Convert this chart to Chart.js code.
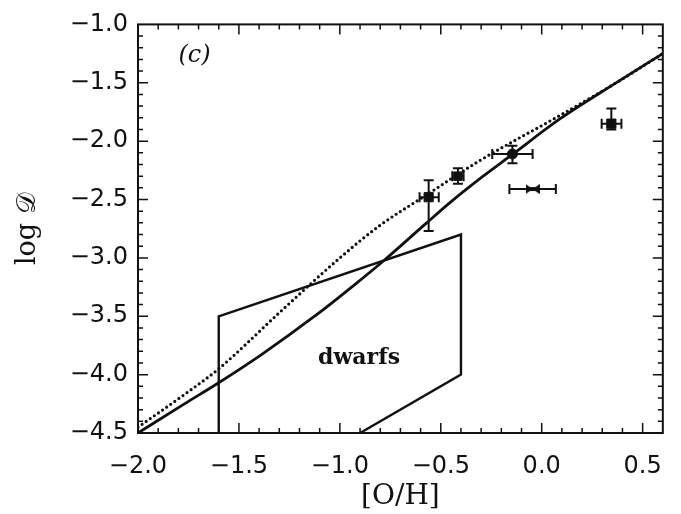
<!DOCTYPE html>
<html>
<head>
<meta charset="utf-8">
<script src="https://cdn.jsdelivr.net/npm/chart.js@4.4.1/dist/chart.umd.min.js"></script>
<style>
  html, body { margin: 0; padding: 0; background: #fff; }
  #chart { display: block; }
</style>
</head>
<body>
<canvas id="chart" width="681" height="514"></canvas>
<script>
// Model curves: log D against [O/H]
const solidX = [-2.0, -1.77, -1.61, -1.39, -1.11, -0.92, -0.78, -0.57, -0.45, -0.29, -0.15, 0.09, 0.36, 0.6];
const solidY = [-4.5, -4.25, -4.08, -3.83, -3.48, -3.22, -3.02, -2.70, -2.52, -2.30, -2.12, -1.81, -1.51, -1.25];

const dottedX = [-2.0, -1.77, -1.60, -1.30, -1.00, -0.80, -0.57, -0.31, 0.09, 0.35, 0.6];
const dottedY = [-4.45, -4.17, -3.95, -3.47, -3.00, -2.72, -2.46, -2.17, -1.78, -1.52, -1.25];

// Outline of the dwarf-star region
const dwarfX = [-1.6, -1.6, -0.4, -0.4, -0.9];
const dwarfY = [-4.5, -3.5, -2.8, -4.0, -4.5];

// Measured points with asymmetric errors
const pointX = [-0.56, -0.415, -0.145, -0.045, 0.345];
const pointY = [-2.48, -2.30, -2.11, -2.41, -1.85];
const xErrMinus = [0.045, 0.028, 0.10, 0.115, 0.048];
const xErrPlus = [0.05, 0.028, 0.10, 0.115, 0.05];
const yErrMinus = [0.29, 0.064, 0.08, 0, 0.05];
const yErrPlus = [0.145, 0.068, 0.07, 0, 0.13];

// Axis ticks
const xTicks = [-2.0, -1.5, -1.0, -0.5, 0.0, 0.5];
const yTicks = [-4.5, -4.0, -3.5, -3.0, -2.5, -2.0, -1.5, -1.0];

// Annotations
const panelLabel = { text: "(c)", x: -1.72, y: -1.27 };
const regionLabel = { text: "dwarfs", x: -0.905, y: -3.86 };

const INK = "#111";

// Sideways hourglass marker
function makeBowtie() {
	const c = document.createElement("canvas");
	c.width = 14;
	c.height = 10;
	const g = c.getContext("2d");
	g.fillStyle = INK;
	g.beginPath();
	g.moveTo(0, 0);
	g.lineTo(14, 10);
	g.lineTo(14, 0);
	g.lineTo(0, 10);
	g.closePath();
	g.fill();
	g.fillRect(3, 3, 8, 4);
	return c;
}

const pointStyles = ["rect", "rect", "circle", makeBowtie(), "rect"];
const pointSizes = [6.5, 6, 5, 6, 6.5];

function fmt(v) {
	if (Math.abs(v) < 1e-9) return "0.0";
	return v.toFixed(1).replace("-", "\u2212");
}

const toXY = (xs, ys) => xs.map((x, i) => ({ x, y: ys[i] }));

// Box frame with inward major/minor ticks on all four sides
const frameTicks = {
	id: "frameTicks",
	afterDraw(chart) {
		const { ctx, chartArea: a, scales } = chart;
		const sx = scales.x;
		const sy = scales.y;
		ctx.save();
		ctx.strokeStyle = INK;
		ctx.lineWidth = 2;
		ctx.strokeRect(a.left, a.top, a.right - a.left, a.bottom - a.top);

		ctx.lineWidth = 1.5;
		ctx.beginPath();
		for (let i = 1; i < 26; i++) {
			const px = sx.getPixelForValue(-2.0 + i * 0.1);
			const len = i % 5 === 0 ? 10 : 5;
			ctx.moveTo(px, a.bottom);
			ctx.lineTo(px, a.bottom - len);
			ctx.moveTo(px, a.top);
			ctx.lineTo(px, a.top + len);
		}
		for (let i = 1; i < 35; i++) {
			const py = sy.getPixelForValue(-4.5 + i * 0.1);
			const len = i % 5 === 0 ? 10 : 5;
			ctx.moveTo(a.left, py);
			ctx.lineTo(a.left + len, py);
			ctx.moveTo(a.right, py);
			ctx.lineTo(a.right - len, py);
		}
		ctx.stroke();
		ctx.restore();
	},
};

// Error bars with end caps for the measured points
const errorBars = {
	id: "errorBars",
	afterDatasetsDraw(chart) {
		const { ctx, scales } = chart;
		const sx = scales.x;
		const sy = scales.y;
		const cap = 5;
		ctx.save();
		ctx.strokeStyle = INK;
		ctx.lineWidth = 2;
		ctx.beginPath();
		pointX.forEach((xv, i) => {
			const px = sx.getPixelForValue(xv);
			const py = sy.getPixelForValue(pointY[i]);
			const x0 = sx.getPixelForValue(xv - xErrMinus[i]);
			const x1 = sx.getPixelForValue(xv + xErrPlus[i]);
			ctx.moveTo(x0, py);
			ctx.lineTo(x1, py);
			ctx.moveTo(x0, py - cap);
			ctx.lineTo(x0, py + cap);
			ctx.moveTo(x1, py - cap);
			ctx.lineTo(x1, py + cap);
			if (yErrMinus[i] > 0 || yErrPlus[i] > 0) {
				const y0 = sy.getPixelForValue(pointY[i] - yErrMinus[i]);
				const y1 = sy.getPixelForValue(pointY[i] + yErrPlus[i]);
				ctx.moveTo(px, y0);
				ctx.lineTo(px, y1);
				ctx.moveTo(px - cap, y0);
				ctx.lineTo(px + cap, y0);
				ctx.moveTo(px - cap, y1);
				ctx.lineTo(px + cap, y1);
			}
		});
		ctx.stroke();
		ctx.restore();
	},
};

// Panel and region labels placed in data coordinates
const annotations = {
	id: "annotations",
	afterDraw(chart) {
		const { ctx, scales } = chart;
		ctx.save();
		ctx.fillStyle = INK;
		ctx.textAlign = "center";
		ctx.textBaseline = "middle";
		ctx.font = "italic 24px 'DejaVu Serif'";
		ctx.fillText(panelLabel.text, scales.x.getPixelForValue(panelLabel.x), scales.y.getPixelForValue(panelLabel.y));
		ctx.font = "bold 22px 'DejaVu Serif'";
		ctx.fillText(regionLabel.text, scales.x.getPixelForValue(regionLabel.x), scales.y.getPixelForValue(regionLabel.y));
		ctx.restore();
	},
};

const tickFont = { family: "'DejaVu Sans', sans-serif", size: 24 };

new Chart(document.getElementById("chart"), {
	type: "scatter",
	data: {
		datasets: [
			{
				data: toXY(solidX, solidY),
				showLine: true,
				borderColor: INK,
				borderWidth: 2.8,
				pointRadius: 0,
				cubicInterpolationMode: "monotone",
			},
			{
				data: toXY(dottedX, dottedY),
				showLine: true,
				borderColor: INK,
				borderWidth: 3.2,
				borderDash: [0, 5],
				borderCapStyle: "round",
				pointRadius: 0,
				cubicInterpolationMode: "monotone",
			},
			{
				data: toXY(dwarfX, dwarfY),
				showLine: true,
				borderColor: INK,
				borderWidth: 2.4,
				pointRadius: 0,
				tension: 0,
			},
			{
				data: toXY(pointX, pointY),
				showLine: false,
				pointStyle: pointStyles,
				pointRadius: pointSizes,
				backgroundColor: INK,
				borderColor: INK,
				borderWidth: 1,
			},
		],
	},
	options: {
		responsive: false,
		animation: false,
		events: [],
		layout: { padding: { top: 23, right: 6, left: 0, bottom: 0 } },
		plugins: { legend: { display: false }, tooltip: { enabled: false } },
		scales: {
			x: {
				type: "linear",
				min: -2.0,
				max: 0.6,
				afterBuildTicks: (scale) => {
					scale.ticks = xTicks.map((value) => ({ value }));
				},
				afterFit: (scale) => {
					scale.height = 81;
				},
				grid: { display: false, drawTicks: false },
				border: { display: false },
				ticks: { font: tickFont, color: INK, padding: 19, maxRotation: 0, callback: fmt },
				title: {
					display: true,
					text: "[O/H]",
					font: { family: "'DejaVu Serif', serif", size: 28 },
					color: INK,
					padding: { top: 0, bottom: 0 },
				},
			},
			y: {
				type: "linear",
				min: -4.5,
				max: -1.0,
				afterBuildTicks: (scale) => {
					scale.ticks = yTicks.map((value) => ({ value }));
				},
				afterFit: (scale) => {
					scale.width = 138;
				},
				grid: { display: false, drawTicks: false },
				border: { display: false },
				ticks: { font: tickFont, color: INK, padding: 10, callback: fmt },
				title: {
					display: true,
					text: "log \u{1D49F}",
					font: { family: "'DejaVu Serif', serif", size: 27 },
					color: INK,
					padding: { top: 12, bottom: 0 },
				},
			},
		},
	},
	plugins: [frameTicks, errorBars, annotations],
});
</script>
</body>
</html>
